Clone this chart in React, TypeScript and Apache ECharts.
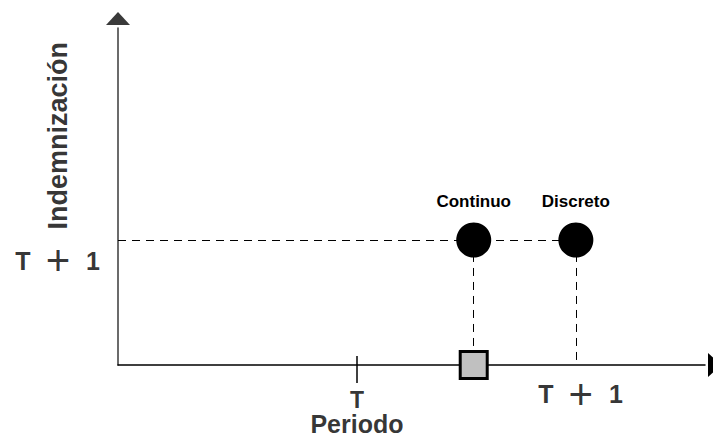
import React, { useEffect, useRef } from "react";
import * as echarts from "echarts";

// ---- data ----
const xMax = 10;
const yMax = 10;
const tickT = 4.07; // position of "T" on the period axis
const pointNames = ["Continuo", "Discreto"];
const pointX = [6.06, 7.8];
const pointY = [3.71, 3.71];
const squareX = [6.06];
const squareY = [0];
const tickLabelT = "T";
const tickLabelT1 = ["T", "+", "1"];
const xAxisTitle = "Periodo";
const yAxisTitle = "Indemnización";
const yTitleAt = 6.8;

const FONT = "'Liberation Sans', Arial, sans-serif";

const plusRich = {
  t: { width: 34, align: "center", verticalAlign: "middle", fontSize: 25, fontWeight: "bold", fontFamily: FONT, color: "#000" },
  p: { width: 36, align: "center", verticalAlign: "middle", fontSize: 42, fontWeight: "normal", fontFamily: FONT, color: "#000" },
  o: { width: 34, align: "center", verticalAlign: "middle", fontSize: 25, fontWeight: "bold", fontFamily: FONT, color: "#000" },
};
const plusText = `{t|${tickLabelT1[0]}}{p|${tickLabelT1[1]}}{o|${tickLabelT1[2]}}`;

const periodRich = {
  a: { align: "center", fontSize: 23, lineHeight: 23, fontWeight: "bold", fontFamily: FONT, color: "#000" },
  b: { align: "center", fontSize: 25, lineHeight: 24, fontWeight: "bold", fontFamily: FONT, color: "#000" },
};
const periodText = `{a|${tickLabelT}}\n{b|${xAxisTitle}}`;

export default function App() {
  const ref = useRef<HTMLDivElement>(null);
  useEffect(() => {
    if (!ref.current) return;
    const chart = echarts.init(ref.current, undefined, { renderer: "svg" });
    const dashed = { color: "#000", width: 1, type: [8, 6] as any };
    chart.setOption({
      animation: false,
      backgroundColor: "#fff",
      grid: { left: 118, right: 8, top: 28, bottom: 72 },
      xAxis: {
        type: "value",
        min: 0,
        max: xMax,
        splitLine: { show: false },
        axisLabel: { show: false },
        axisTick: { show: true, customValues: [tickT], length: 18, inside: false, lineStyle: { color: "#000", width: 1.5 } },
        axisLine: {
          show: true,
          lineStyle: { color: "#000", width: 1.5 },
          symbol: ["none", "triangle"],
          symbolSize: [24, 13],
          symbolOffset: [0, 9.5],
        },
      },
      yAxis: {
        type: "value",
        min: 0,
        max: yMax,
        splitLine: { show: false },
        axisLabel: { show: false },
        axisTick: { show: false },
        axisLine: {
          show: true,
          lineStyle: { color: "#3a3a3a", width: 1.5 },
          symbol: ["none", "triangle"],
          symbolSize: [24, 13],
          symbolOffset: [0, 9.5],
        },
      },
      series: [
        {
          type: "line",
          data: [],
          markLine: {
            silent: true,
            symbol: ["none", "none"],
            label: { show: false },
            lineStyle: dashed,
            data: [
              [{ coord: [0, pointY[0]] }, { coord: [pointX[1], pointY[1]] }],
              [{ coord: [pointX[0], pointY[0]] }, { coord: [pointX[0], 0] }],
              [{ coord: [pointX[1], pointY[1]] }, { coord: [pointX[1], 0] }],
              [
                { coord: [tickT, 0], lineStyle: { type: "solid", width: 1.5, color: "#000" } },
                { coord: [tickT, 0.27] },
              ],
            ],
          },
        },
        {
          type: "scatter",
          clip: false,
          z: 5,
          symbol: "circle",
          symbolSize: 35,
          itemStyle: { color: "#000", opacity: 1 },
          label: {
            show: true,
            position: "top",
            distance: 12,
            formatter: (p: any) => pointNames[p.dataIndex],
            fontFamily: FONT,
            fontWeight: "bold",
            fontSize: 17,
            color: "#000",
          },
          data: pointX.map((x, i) => [x, pointY[i]]),
        },
        {
          type: "scatter",
          clip: false,
          z: 6,
          symbol: "rect",
          symbolSize: 27,
          itemStyle: { color: "#c0c0c0", borderColor: "#000", borderWidth: 3, opacity: 1 },
          data: squareX.map((x, i) => [x, squareY[i]]),
        },
        {
          type: "scatter",
          clip: false,
          silent: true,
          z: 7,
          symbolSize: 0,
          itemStyle: { color: "transparent" },
          data: [
            {
              value: [0, pointY[0]],
              label: { show: true, position: "inside", offset: [-60, 21], formatter: plusText, rich: plusRich },
            },
            {
              value: [pointX[1], 0],
              label: { show: true, position: "inside", offset: [5, 29], formatter: plusText, rich: plusRich },
            },
            {
              value: [tickT, 0],
              label: { show: true, position: "inside", offset: [0, 47], formatter: periodText, rich: periodRich },
            },
            {
              value: [0, yTitleAt],
              label: {
                show: true, position: "inside", offset: [0, -60], rotate: 90, formatter: yAxisTitle,
                fontFamily: FONT, fontWeight: "bold", fontSize: 27, color: "#000",
              },
            },
          ],
        },
      ],
    });
    return () => chart.dispose();
  }, []);
  return <div ref={ref} style={{ position: "fixed", left: 0, top: 0, width: 713, height: 437 }} />;
}
